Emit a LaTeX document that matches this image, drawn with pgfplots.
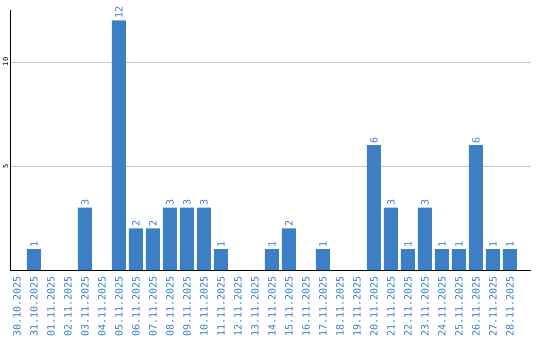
\documentclass[border=0pt]{standalone}
\usepackage{pgfplots}
\pgfplotsset{compat=1.18}
\usepackage{fontspec}
\setmonofont{DejaVu Sans Mono}
\definecolor{barblue}{RGB}{61,127,196}
\definecolor{txtblue}{RGB}{58,124,200}
\definecolor{gridgray}{RGB}{200,200,200}
\begin{document}
\begin{tikzpicture}
\path[use as bounding box] (0pt,0pt) rectangle (540pt,340pt);
\begin{axis}[
  at={(10.5pt,70pt)}, anchor=south west,
  scale only axis, width=520.5pt, height=260pt,
  xmin=-0.382, xmax=30.24, ymin=0, ymax=12.5,
  axis x line=bottom, axis y line=left,
  axis line style={-, line width=1pt, black},
  /pgf/number format/assume math mode=true,
  xtick={0,...,29},
  xticklabels={30.10.2025,31.10.2025,01.11.2025,02.11.2025,03.11.2025,04.11.2025,05.11.2025,06.11.2025,07.11.2025,08.11.2025,09.11.2025,10.11.2025,11.11.2025,12.11.2025,13.11.2025,14.11.2025,15.11.2025,16.11.2025,17.11.2025,18.11.2025,19.11.2025,20.11.2025,21.11.2025,22.11.2025,23.11.2025,24.11.2025,25.11.2025,26.11.2025,27.11.2025,28.11.2025},
  xticklabel style={rotate=90, anchor=east, inner sep=0pt, font=\fontsize{10}{10}\selectfont\ttfamily, text=txtblue},
  xticklabel shift=6pt,
  ytick={5,10}, yticklabels={5,10},
  yticklabel style={rotate=90, anchor=south, inner sep=0pt, font=\fontsize{7}{7}\selectfont\ttfamily, text=black},
  yticklabel shift=2pt,
  major tick length=0pt,
  ymajorgrids, grid style={gridgray, line width=0.8pt},
  ybar, bar width=14pt,
  nodes near coords,
  every node near coord/.append style={rotate=90, anchor=west, inner sep=1.5pt, font=\fontsize{10}{10}\selectfont\ttfamily, text=txtblue},
  clip=false,
]
\addplot[fill=barblue, draw=none] coordinates {
  (1,1) (4,3) (6,12) (7,2) (8,2) (9,3) (10,3) (11,3) (12,1)
  (15,1) (16,2) (18,1) (21,6) (22,3) (23,1) (24,3) (25,1) (26,1)
  (27,6) (28,1) (29,1)
};
\end{axis}
\end{tikzpicture}
\end{document}
